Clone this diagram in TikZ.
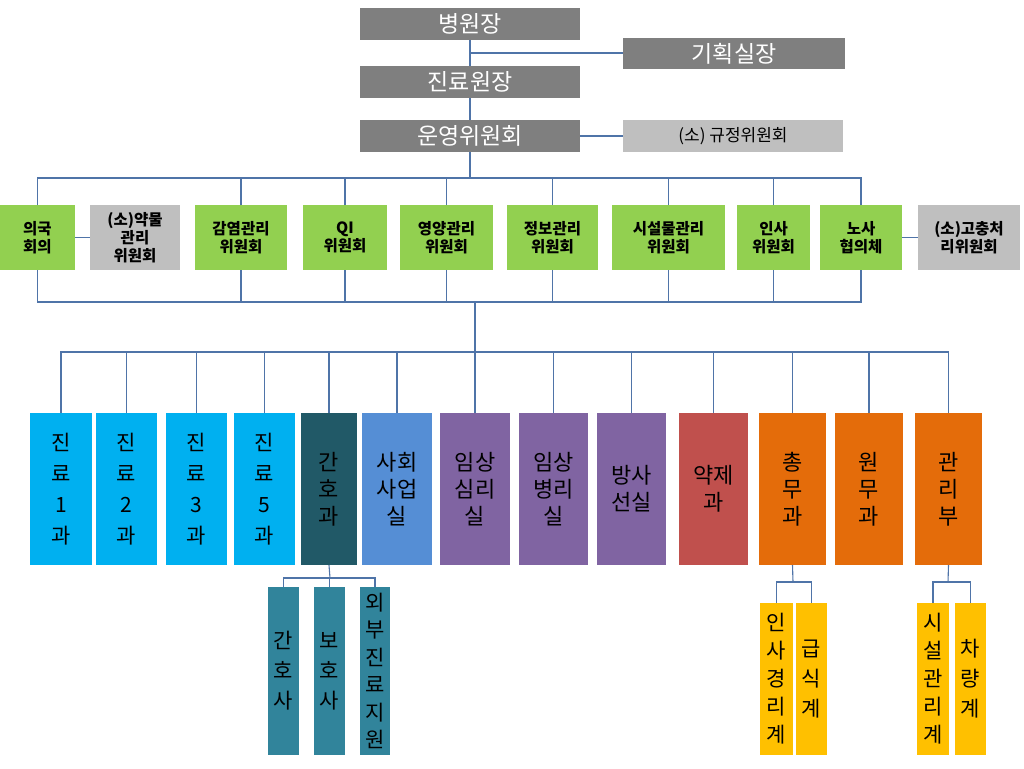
\documentclass[tikz,border=0pt]{standalone}
\usepackage{fontspec}
\setmainfont{Noto Sans CJK KR}
\begin{document}
\begin{tikzpicture}[x=1pt,y=-1pt,
  ln/.style={draw=lineblue,line width=1.1pt},
  bx/.style={inner sep=0pt,outer sep=0pt,align=center,text=black},
  topbx/.style={bx,fill=topgray,text=white,font=\fontsize{23}{25}\selectfont},
  grn/.style={bx,fill=cgreen,font=\bfseries\fontsize{15.5}{18}\selectfont},
  gry/.style={bx,fill=lgray,font=\bfseries\fontsize{15.5}{18}\selectfont},
  dept/.style={bx,font=\fontsize{21}{31}\selectfont},
  dept2/.style={bx,font=\fontsize{22}{27}\selectfont},
  subb/.style={bx,font=\fontsize{21}{30}\selectfont}]
\definecolor{lineblue}{HTML}{4F74A8}
\definecolor{topgray}{HTML}{7F7F7F}
\definecolor{lgray}{HTML}{BFBFBF}
\definecolor{cgreen}{HTML}{92D050}
\definecolor{cyanb}{HTML}{00B0F0}
\definecolor{teal}{HTML}{215967}
\definecolor{steel}{HTML}{558ED5}
\definecolor{purp}{HTML}{8064A2}
\definecolor{redb}{HTML}{C0504D}
\definecolor{orng}{HTML}{E46C0A}
\definecolor{tealb}{HTML}{31849B}
\definecolor{ylw}{HTML}{FFC000}
\useasboundingbox (0,0) rectangle (1024,768);
\fill[white] (0,0) rectangle (1024,768);
\newcommand\bx[7]{\node[#6,minimum width=#4pt-#2pt,minimum height=#5pt-#3pt] (#1) at ({(#2+#4)/2},{(#3+#5)/2}) {#7};}
% top
\bx{a}{360}{8}{580}{40}{topbx}{병원장}
\bx{b}{623}{38}{845}{69}{topbx}{기획실장}
\bx{c}{360}{66}{580}{98}{topbx}{진료원장}
\bx{d}{360}{120}{580}{152}{topbx}{운영위원회}
\bx{e}{623}{120}{843}{152}{bx,fill=lgray,font=\fontsize{17}{20}\selectfont}{(소) 규정위원회}
% committees
\bx{g1}{0}{205}{75}{270}{grn}{의국\\회의}
\bx{g0}{90}{205}{180}{270}{gry}{(소)약물\\관리\\위원회}
\bx{g2}{195}{205}{287}{270}{grn}{감염관리\\위원회}
\bx{g3}{303}{205}{387}{270}{grn}{QI\\위원회}
\bx{g4}{400}{205}{493}{270}{grn}{영양관리\\위원회}
\bx{g5}{507}{205}{598}{270}{grn}{정보관리\\위원회}
\bx{g6}{612}{205}{725}{270}{grn}{시설물관리\\위원회}
\bx{g7}{737}{205}{810}{270}{grn}{인사\\위원회}
\bx{g8}{820}{205}{902}{270}{grn}{노사\\협의체}
\bx{g9}{918}{205}{1020}{270}{gry}{(소)고충처\\리위원회}
% departments
\bx{h1}{30}{413}{92}{565}{dept,fill=cyanb}{진\\료\\1\\과}
\bx{h2}{96}{413}{157}{565}{dept,fill=cyanb}{진\\료\\2\\과}
\bx{h3}{166}{413}{227}{565}{dept,fill=cyanb}{진\\료\\3\\과}
\bx{h4}{234}{413}{295}{565}{dept,fill=cyanb}{진\\료\\5\\과}
\bx{h5}{301}{413}{357}{565}{dept2,fill=teal}{간\\호\\과}
\bx{h6}{362}{413}{432}{565}{dept2,fill=steel}{사회\\사업\\실}
\bx{h7}{440}{413}{510}{565}{dept2,fill=purp}{임상\\심리\\실}
\bx{h8}{519}{413}{588}{565}{dept2,fill=purp}{임상\\병리\\실}
\bx{h9}{597}{413}{666}{565}{dept2,fill=purp}{방사\\선실}
\bx{h10}{679}{413}{748}{565}{dept2,fill=redb}{약제\\과}
\bx{h11}{759}{413}{826}{565}{dept2,fill=orng}{총\\무\\과}
\bx{h12}{835}{413}{903}{565}{dept2,fill=orng}{원\\무\\과}
\bx{h13}{915}{413}{982}{565}{dept2,fill=orng}{관\\리\\부}
% subs
\bx{s1}{268}{587}{299}{755}{subb,fill=tealb}{간\\호\\사}
\bx{s2}{314}{587}{345}{755}{subb,fill=tealb}{보\\호\\사}
\bx{s3}{360}{587}{390}{755}{subb,fill=tealb,font=\fontsize{21}{27.5}\selectfont}{외\\부\\진\\료\\지\\원}
\bx{s4}{760}{603}{793}{755}{subb,fill=ylw,font=\fontsize{21}{28}\selectfont}{인\\사\\경\\리\\계}
\bx{s5}{796}{603}{827}{755}{subb,fill=ylw}{급\\식\\계}
\bx{s6}{917}{603}{949}{755}{subb,fill=ylw,font=\fontsize{21}{28}\selectfont}{시\\설\\관\\리\\계}
\bx{s7}{955}{603}{986}{755}{subb,fill=ylw}{차\\량\\계}
% connectors
\coordinate (j1) at (470,53);
\draw[ln] (a.south -| j1) -- (c.north -| j1);
\draw[ln] (j1) -- (j1 -| b.west);
\draw[ln] (c.south -| j1) -- (d.north -| j1);
\draw[ln] (d.east) -- (e.west);
\coordinate (t1) at (470,178);
\draw[ln] (d.south -| t1) -- (t1);
\draw[ln] (g1.north) |- (t1) -| (g8.north);
\foreach \g in {g2,g3,g4,g5,g6,g7} \draw[ln] (\g.north) -- (\g.north |- t1);
\draw[ln] (g1.east) -- (g0.west);
\draw[ln] (g8.east) -- (g9.west);
\coordinate (t2) at (475,302);
\draw[ln] (g1.south) |- (t2) -| (g8.south);
\foreach \g in {g2,g3,g4,g5,g6,g7} \draw[ln] (\g.south) -- (\g.south |- t2);
\coordinate (t3) at (475,352);
\draw[ln] (t2) -- (t3);
\draw[ln] (h1.north) |- (t3) -| (h13.north);
\foreach \h in {h2,h3,h4,h5,h6,h7,h8,h9,h10,h11,h12} \draw[ln] (\h.north) -- (\h.north |- t3);
\coordinate (u1) at (330,578);
\draw[ln] (h5.south) -- (u1);
\draw[ln] (s1.north) |- (u1) -| (s3.north);
\draw[ln] (s2.north) -- (s2.north |- u1);
\coordinate (u2) at (793,582);
\draw[ln] (h11.south) -- (u2);
\draw[ln] (s4.north) |- (u2) -| (s5.north);
\coordinate (u3) at (948,582);
\draw[ln] (h13.south) -- (u3);
\draw[ln] (s6.north) |- (u3) -| (s7.north);
\end{tikzpicture}
\end{document}
